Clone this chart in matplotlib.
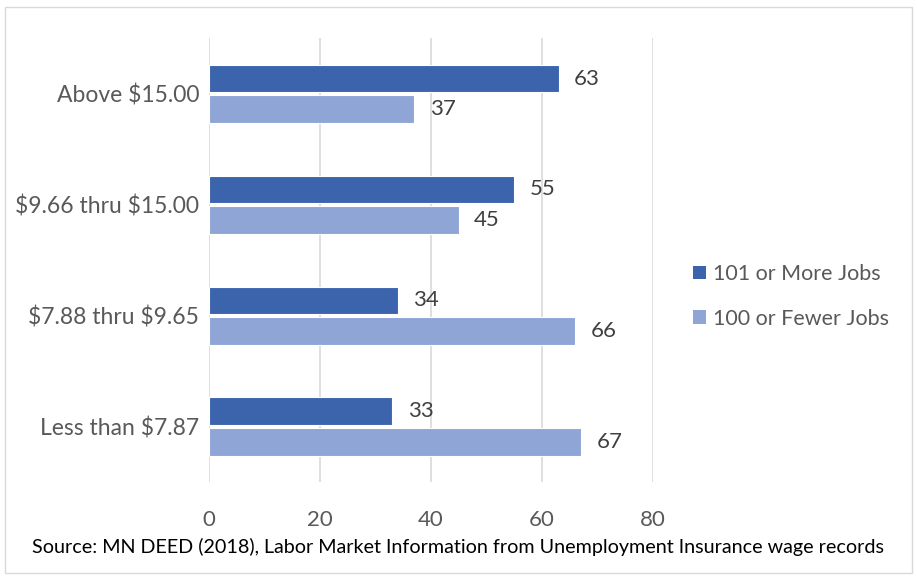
import numpy as np
import matplotlib.pyplot as plt
from matplotlib.patches import Patch, Rectangle

categories = ["Less than $7.87", "$7.88 thru $9.65", "$9.66 thru $15.00", "Above $15.00"]
more_jobs = [33, 34, 55, 63]
fewer_jobs = [67, 66, 45, 37]
series_names = ["101 or More Jobs", "100 or Fewer Jobs"]
x_ticks = [0, 20, 40, 60, 80]
source = "Source: MN DEED (2018), Labor Market Information from Unemployment Insurance wage records"

dark = "#3B64AD"
light = "#8FA5D6"
plt.rcParams['font.family'] = ['Lato', 'DejaVu Sans']
plt.rcParams['text.parse_math'] = False

fig = plt.figure(figsize=(9.17, 5.8), dpi=100)
ax = fig.add_axes([0.228, 0.169, 0.484, 0.765])

y = np.arange(len(categories))
h = 0.25
b1 = ax.barh(y + h / 2 + 0.012, more_jobs, height=h, color=dark, edgecolor="white", linewidth=0.8)
b2 = ax.barh(y - h / 2 - 0.012, fewer_jobs, height=h, color=light, edgecolor="white", linewidth=0.8)

for bars in (b1, b2):
    for r in bars:
        ax.text(r.get_width() + 2.8, r.get_y() + r.get_height() / 2, f"{r.get_width():g}",
                va="center", ha="left", fontsize=16, color="#404040")

ax.set_xlim(0, 80)
ax.set_ylim(-0.5, len(categories) - 0.5)
ax.set_xticks(x_ticks)
ax.set_yticks(y)
ax.set_yticklabels(categories)
ax.tick_params(axis="both", length=0, labelsize=16, colors="#595959")
ax.tick_params(axis="y", labelsize=16.5)
ax.tick_params(axis="x", pad=20)
ax.tick_params(axis="y", pad=7)
ax.grid(axis="x", color="#D9D9D9", linewidth=1.2)
ax.set_axisbelow(True)
for s in ax.spines.values():
    s.set_visible(False)

handles = [Patch(facecolor=dark), Patch(facecolor=light)]
fig.legend(handles, series_names, loc="center left", bbox_to_anchor=(0.735, 0.489),
           frameon=False, fontsize=15.5, labelcolor="#595959", handlelength=0.6,
           handleheight=0.6, handletextpad=0.3, labelspacing=1.15)

fig.text(0.5, 0.057, source, ha="center", va="center", fontsize=14.2, color="#000000")

fig.patches.append(Rectangle((0.005, 0.012), 0.99, 0.976, transform=fig.transFigure,
                             fill=False, edgecolor="#D9D9D9", linewidth=1))

fig.savefig("out.png", dpi=100)
